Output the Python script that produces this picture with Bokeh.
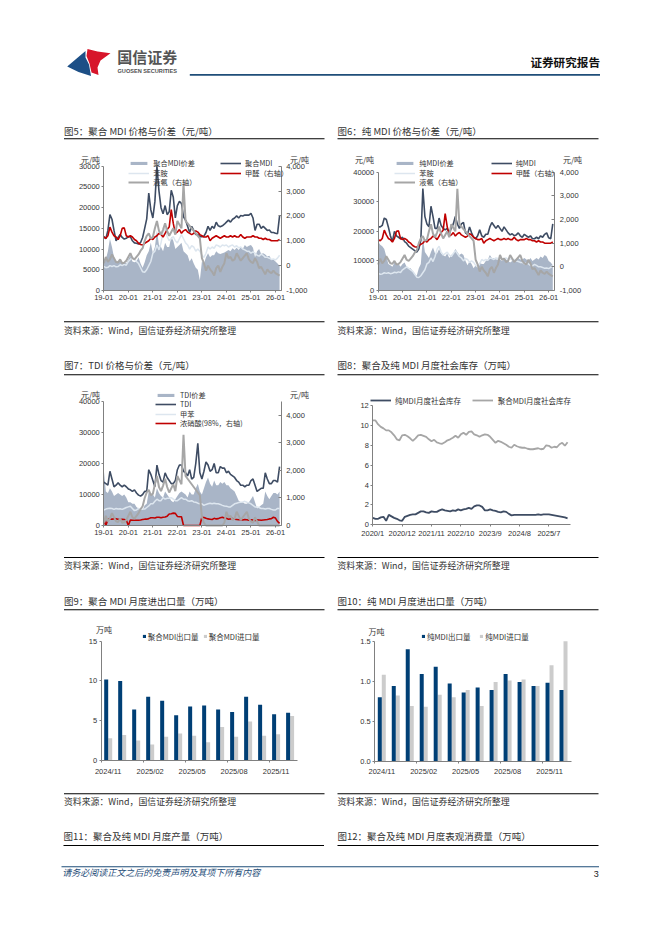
from bokeh.plotting import figure
from bokeh.layouts import column, row
from bokeh.models import (Range1d, LinearAxis, FixedTicker, NumeralTickFormatter, Label,
                          BoxAnnotation, Legend, ColumnDataSource)
from bokeh.core.properties import value
from bokeh.embed import file_html
from bokeh.resources import INLINE

# ---------- data ----------
year_labels = ["19-01", "20-01", "21-01", "22-01", "23-01", "24-01", "25-01", "26-01"]
inventory_labels = ["2020/1", "2020/12", "2021/11", "2022/10", "2023/9", "2024/8", "2025/7"]
trade_months = ["2024/11", "2025/02", "2025/05", "2025/08", "2025/11"]

polymeric_price = [13000,12500,14500,18300,17200,14500,12000,12800,13500,12800,12400,12600,
    13000,13000,12000,11500,11400,11200,11600,12800,15000,17300,23500,19500,
    17500,21500,30000,24000,20000,18500,20500,18300,19000,24200,22500,17500,
    20500,21500,21000,17800,17000,15500,14000,15500,14500,13500,13500,13000,
    13000,13100,14000,15500,14500,15500,15000,16500,15600,15400,15600,16000,
    16500,17000,16500,17200,17500,18000,17500,18100,18000,18200,18200,18200,
    18600,17500,14500,16000,16000,15000,15500,15000,14500,14600,14000,14000,13800,13700,18000]
polymeric_spread = [7000,7500,9500,12500,10500,8000,7000,7000,7500,6500,6800,6500,
    7500,8500,7000,6800,7000,8000,6500,5500,6800,8500,9500,11500,
    9000,10500,14500,11000,10500,9500,11500,10500,10500,13000,12000,10000,
    10500,11000,11500,9500,9000,8500,7000,7800,6500,5500,5000,2500,
    7000,6500,8000,9000,8000,8500,8500,9500,9000,8800,9000,9200,
    9500,9800,9500,10200,9800,10300,9800,10500,10000,11000,10500,10800,
    11000,10300,8000,9500,10000,8800,9000,8700,8200,8400,7500,7500,7000,6500,6000]
aniline = [5800,5500,5600,6000,5800,6000,5700,5800,6200,6000,6300,6100,
    7000,7500,8000,7500,7000,6500,5500,4500,4400,5000,6000,7000,
    9000,9500,11000,9800,11500,14000,15000,13000,12000,12500,13000,12000,
    11500,12500,13500,12500,11500,11000,10000,10800,10500,9500,10000,9500,
    8500,8000,9000,10500,10000,10500,10200,11000,10800,10500,11000,10800,
    11000,10500,10800,11000,10500,10800,10300,10500,10000,9800,9500,9500,
    9000,9300,9000,8500,8300,8800,8500,8000,8000,7800,7500,7600,7400,7800,8500]
formaldehyde = [1150,1100,1200,1550,1350,1200,1150,1050,1200,1500,1520,1200,
    1150,1200,1150,1050,1000,900,850,830,900,950,1000,1100,
    1050,1150,1200,1300,1250,1150,1300,1450,1550,2250,1700,1300,
    1350,1450,1300,1400,1450,1350,1300,1250,1300,1400,1350,1250,
    1200,1150,1150,1200,1000,1100,1150,1200,1150,1100,1150,1200,
    1150,1150,1200,1150,1200,1150,1150,1250,1150,1100,1150,1150,
    1150,1200,1150,1150,1100,1100,1050,1100,1050,1050,1000,1000,1000,1000,1050]
ammonia = [100,350,150,250,450,300,150,130,250,100,120,200,
    350,500,300,250,350,450,600,700,1000,1200,1300,1100,
    1150,1500,1800,1400,1250,1450,1700,1400,1200,1350,1500,1250,
    1800,1650,1500,3300,1800,1700,1600,1500,1400,1300,1200,1100,
    300,100,-200,0,-150,-250,-400,-100,0,-250,-50,100,
    500,300,350,200,250,500,350,200,300,400,500,250,
    150,100,300,150,-100,-50,-200,-350,-150,-250,-300,-200,-300,-350,-400]
ammonia_floor = [max(v, 0) for v in ammonia]

pure_price = [21500,21500,22000,24500,24000,21500,18500,16500,20000,18500,18000,17500,
    18000,16500,16000,15000,14500,14000,13500,13000,14000,17000,34500,25000,
    22500,21500,28500,25000,21000,21000,24500,22000,21000,20500,21000,19500,
    21000,22500,25000,22500,21000,22500,23000,19500,19000,21500,19500,18000,
    17500,18500,20500,18500,18000,19000,19000,21500,23000,22000,21000,22000,
    21000,20000,21500,20500,19500,18800,19200,18500,18800,19500,18500,18000,
    19000,18500,18000,18500,17500,17500,18000,17500,18500,18000,19000,19500,17800,17500,22500]
pure_spread = [16500,15500,15000,14000,11500,9000,8500,8000,9500,8500,9000,8000,
    9000,9500,8000,7500,7500,6500,5500,5000,7500,9000,18000,13000,
    12000,11000,13000,14500,12500,12500,14000,12500,12000,11500,12500,11000,
    12000,12500,14000,13000,12000,12500,12000,10000,8500,10000,9000,7500,
    8500,8000,9500,9000,9000,10000,10500,12000,11000,11000,10500,10500,
    10500,10000,11000,10500,10000,9500,10000,10000,10500,11000,10500,10500,
    11000,10500,10000,11000,10000,10500,11000,10500,11500,11000,12000,11500,10000,9500,8500]

tdi_price = [14000,13500,13000,17500,15000,12500,13000,13800,13000,12500,13000,12500,
    11800,11500,11000,11500,10500,9800,9500,10000,11000,11000,18000,16500,
    14500,12500,19500,16500,14500,14000,17000,15500,14500,13500,13500,14500,
    18000,19500,19500,17500,17000,16000,18000,15000,15500,20000,26500,17000,
    15000,17500,20500,19500,17500,18000,20000,17000,17000,19000,18500,18500,
    17000,17500,16500,16000,15500,14500,14000,13000,13000,12500,13000,13000,
    14500,15000,13000,11000,11500,12000,12000,17000,15000,13500,13500,14500,14500,14000,19000]
tdi_spread = [18000,11000,10500,12000,11000,9500,10000,10500,10000,9500,10000,9000,
    7500,7500,7000,7000,6000,5500,5000,5000,6500,7000,11000,10500,
    10000,9000,12000,10500,9500,9000,11000,10000,9000,8000,7500,8500,
    9500,10500,11000,10500,10000,9000,11000,10000,10000,12000,13500,11000,
    10000,12000,14000,15500,13500,12500,14500,13000,13000,14000,13500,14000,
    13000,13000,12000,11500,11000,9500,8000,7500,7500,7000,7000,7500,
    8500,9500,7500,5500,6000,6500,7000,11000,9500,8500,9500,10500,10500,10000,11000]
toluene = [5000,5300,5500,5600,5500,5200,5500,5300,5400,5200,5500,5800,
    6000,6200,5500,4800,5000,5500,5200,5300,5300,5800,6300,7000,
    7000,7800,8500,8000,8000,9000,8500,8800,8800,9000,8500,8000,
    8000,8500,9000,8500,8500,8000,7800,8000,7600,7500,7200,7000,
    7000,6500,6800,7000,7200,7000,7200,7000,7000,6800,6500,6300,
    6200,6000,6000,6500,7000,7200,7400,7500,7600,7800,7500,7300,
    7000,6500,6000,6000,5800,5500,5500,5300,5500,5500,5200,5000,5000,5500,5500]
nitric_acid = [250,0,220,240,230,250,240,230,220,230,220,200,
    0,200,190,190,190,190,200,220,230,230,250,280,
    280,270,300,300,280,300,310,340,420,430,450,440,
    330,320,320,0,0,0,0,0,0,0,0,0,
    300,290,260,240,230,220,260,240,250,280,300,270,
    260,230,240,250,230,220,210,220,200,220,210,190,
    210,200,180,210,200,190,200,210,220,240,250,300,270,150,80]

pure_inventory = [0.7,0.6,0.6,0.75,0.8,0.4,1.0,0.85,0.7,0.6,0.45,0.4,
    0.8,0.9,1.0,1.05,1.05,1.2,1.35,1.35,1.25,1.2,1.35,1.3,
    1.3,1.45,1.55,1.45,1.4,1.35,1.45,1.4,1.55,1.45,1.55,1.6,
    1.7,1.6,1.85,1.95,1.95,1.8,1.45,1.45,1.55,1.45,1.4,1.3,
    1.25,1.35,1.3,1.1,0.95,1.0,1.0,1.0,1.0,1.0,1.0,1.0,
    1.0,1.0,1.05,1.0,1.05,1.05,1.05,1.0,0.95,0.9,0.85,0.8,0.75,0.65]
polymeric_inventory = [10.5,10.5,10.1,9.85,9.7,9.5,9.5,9.3,9.0,8.6,8.5,9.0,
    9.05,8.9,8.7,8.45,8.7,9.0,9.05,8.95,8.85,8.6,8.4,8.55,
    8.3,8.2,8.15,8.3,8.5,8.6,8.75,8.95,8.75,9.1,9.25,9.05,
    9.35,9.4,9.1,9.0,8.85,9.0,9.1,9.05,8.85,8.55,8.25,8.45,
    8.35,8.2,8.05,7.85,7.75,8.05,7.9,7.8,7.75,7.75,7.65,7.6,
    7.6,7.65,7.7,7.6,7.65,8.0,7.95,7.75,7.85,7.8,8.1,8.25,7.95,8.3]

polymeric_export = [10.2,10.0,6.4,8.0,7.5,5.7,6.8,6.9,6.4,6.1,8.0,7.0,5.8,6.0]
polymeric_import = [2.8,3.2,2.5,2.0,3.0,3.4,3.1,2.3,4.2,3.0,4.9,3.1,3.3,5.6]
pure_export = [0.80,0.94,1.40,1.09,1.18,0.97,0.86,0.92,0.89,1.09,0.99,0.94,0.98,0.89]
pure_import = [1.08,0.82,0.69,0.68,0.83,0.80,0.89,0.69,0.99,1.01,1.02,0.94,1.20,1.50]

# ---------- full-width punctuation of the report's captions ----------
CO, LP, RP, CM = "\uff1a", "\uff08", "\uff09", "\uff0c"
UNIT_P = LP + "元/吨" + RP
UNIT_T = LP + "万吨" + RP
R_AXIS = LP + "右轴" + RP

# ---------- style ----------
CJK = "Noto Sans CJK SC"
LAT = "Liberation Sans"
AX = "#808080"
TXT = "#333333"
NAVY, RED, LIGHT, GRAY, AREA = "#3E4C63", "#C00000", "#DDE6EF", "#A6A6A6", "#A9B5C7"
BAR_D, BAR_L = "#003F75", "#CCCCCC"
CELL_W, CELL_H, HEAD_H, FOOT_H = 323, 235, 112, 103
ROW = 11


def style_axis(ax):
    ax.axis_line_color = AX
    ax.major_tick_line_color = AX
    ax.minor_tick_line_color = None
    ax.major_tick_in = 0
    ax.major_tick_out = 2
    ax.major_label_text_font = LAT
    ax.major_label_text_font_size = "7.5px"
    ax.major_label_text_color = TXT
    ax.major_label_standoff = 2


class Cell:
    """One figure whose frame fills the whole cell; the axes sit at fixed places inside it."""

    def __init__(self, c, r, fl, fr, ft, fb, xr, yr, yticks, xticks, xlabels, yfmt=None):
        self.cx, self.cy = 8 + CELL_W * c, 120 + CELL_H * r
        self.fl, self.fb = self.cx, self.cy + CELL_H
        self.pf = (fl, fr, ft, fb)
        self.xr, self.yr = xr, yr
        self.p = figure(width=CELL_W, height=CELL_H, output_backend="svg", toolbar_location=None,
                        x_range=Range1d(*self._xfull()), y_range=Range1d(*self._yfull(yr)),
                        min_border=0, outline_line_color=None)
        self.p.grid.visible = False
        ya, xa = self.p.yaxis[0], self.p.xaxis[0]
        style_axis(ya); style_axis(xa)
        ya.ticker = FixedTicker(ticks=yticks)
        ya.fixed_location = xr[0]
        ya.bounds = yr
        if yfmt:
            ya.major_label_overrides = yfmt
        xa.ticker = FixedTicker(ticks=xticks)
        xa.fixed_location = yr[0]
        xa.bounds = xr
        xa.major_label_overrides = dict(zip(xticks, xlabels))

    def _xfull(self):
        fl, fr, _, _ = self.pf
        k = (self.xr[1] - self.xr[0]) / (fr - fl)
        return self.xr[0] - (fl - self.cx) * k, self.xr[1] + (self.cx + CELL_W - fr) * k

    def _yfull(self, rng):
        _, _, ft, fb = self.pf
        k = (rng[1] - rng[0]) / (fb - ft)
        return rng[0] - (self.cy + CELL_H - fb) * k, rng[1] + (ft - self.cy) * k

    def text(self, px, py, s, size="8px", color=TXT, font=CJK, align="left", style="normal"):
        self.p.add_layout(Label(x=px - self.fl, y=self.fb - py + 1, x_units="screen", y_units="screen",
                                text=s, text_font=font, text_font_size=size, text_color=color,
                                text_align=align, text_baseline="middle", text_font_style=style))

    def rule(self, x0, x1, py, color="black", th=1.0):
        self.p.add_layout(BoxAnnotation(left=x0 - self.fl, right=x1 - self.fl,
                                        bottom=self.fb - py - th / 2, top=self.fb - py + th / 2,
                                        left_units="screen", right_units="screen",
                                        top_units="screen", bottom_units="screen",
                                        fill_color=color, fill_alpha=1, line_color=None))

    def frame_text(self, title, src, x0, x1, ty, ry, sry, sy):
        self.text(x0, ty, title, size="9.5px")
        self.rule(x0, x1, ry)
        self.rule(x0, x1, sry)
        self.text(x0, sy, src, size="8.9px")

    def legend(self, items, px, first_cy, pitch, gw=21, gh=4, standoff=4, size="7.5px"):
        # one Legend per row, so that the row pitch can be tighter than the font's line height
        for i, item in enumerate(items):
            cy = first_cy + pitch * i
            self.p.add_layout(Legend(items=[item], location=(px - self.fl, self.fb - cy - ROW / 2),
                                     padding=0, margin=0, spacing=0,
                                     glyph_width=gw, glyph_height=gh, label_standoff=standoff, label_height=1,
                                     label_text_font=CJK, label_text_font_size=size, label_text_color=TXT,
                                     background_fill_alpha=0, border_line_alpha=0))


def right_axis(cell, lo, hi, ticks):
    p = cell.p
    p.extra_y_ranges = {"r": Range1d(*cell._yfull((lo, hi)))}
    ra = LinearAxis(y_range_name="r", ticker=FixedTicker(ticks=ticks),
                    formatter=NumeralTickFormatter(format="0,0"))
    style_axis(ra)
    ra.major_tick_in = 3
    ra.major_tick_out = 0
    ra.major_label_standoff = 5
    ra.fixed_location = cell.xr[1]
    ra.bounds = (lo, hi)
    p.add_layout(ra, "right")


SRC = "资料来源" + CO + "Wind" + CM + "国信证券经济研究所整理"
months = list(range(87))
year_ticks = [0, 12, 24, 36, 48, 60, 72, 84]
L0, L1, R0, R1 = 63.5, 324, 337, 598
TIGHT = dict(pitch=9.5, size="7.2px")


def price_chart(cell, spread, price, feed, feed_color=LIGHT):
    p = cell.p
    a = p.varea(x=months, y1=0, y2=spread, fill_color=AREA)
    d = p.line(months, price, line_color=NAVY, line_width=1.6)
    w = p.line(months, feed, line_color=feed_color, line_width=1.5)
    return a, d, w


# --- 图5
c5 = Cell(0, 0, 103.3, 280.7, 165.7, 290, (0, 86.8), (0, 30000),
          [0, 5000, 10000, 15000, 20000, 25000, 30000], year_ticks, year_labels)
right_axis(c5, -1000, 4000, [-1000, 0, 1000, 2000, 3000, 4000])
a, d, w = price_chart(c5, polymeric_spread, polymeric_price, aniline)
r = c5.p.line(months, formaldehyde, y_range_name="r", line_color=RED, line_width=1.6)
g = c5.p.line(months, ammonia, y_range_name="r", line_color=GRAY, line_width=2)
c5.legend([("聚合MDI价差", [a]), ("苯胺", [w]), ("液氨" + R_AXIS, [g])], 50 + 235 / 3, 162.8, **TIGHT)
c5.legend([("聚合MDI", [d]), ("甲醛" + R_AXIS, [r])], 50 + 510 / 3, 162.8, **TIGHT)
c5.text(90, 159.5, "元/吨", align="center")
c5.text(299, 159.5, "元/吨", align="center")
c5.frame_text("图5" + CO + "聚合 MDI 价格与价差" + UNIT_P, SRC, L0, L1, 131, 138.3, 321.3, 331)

# --- 图6
c6 = Cell(1, 0, 377.7, 554.3, 171.7, 290, (0, 87), (0, 40000),
          [0, 10000, 20000, 30000, 40000], year_ticks, year_labels)
right_axis(c6, -1000, 4000, [-1000, 0, 1000, 2000, 3000, 4000])
a, d, w = price_chart(c6, pure_spread, pure_price, aniline)
r = c6.p.line(months, formaldehyde, y_range_name="r", line_color=RED, line_width=1.6)
g = c6.p.line(months, ammonia, y_range_name="r", line_color=GRAY, line_width=2)
c6.legend([("纯MDI价差", [a]), ("苯胺", [w]), ("液氨" + R_AXIS, [g])], 330 + 193 / 3, 162.8, **TIGHT)
c6.legend([("纯MDI", [d]), ("甲醛" + R_AXIS, [r])], 330 + 482 / 3, 162.8, **TIGHT)
c6.text(364, 160, "元/吨", align="center")
c6.text(572, 160, "元/吨", align="center")
c6.frame_text("图6" + CO + "纯 MDI 价格与价差" + UNIT_P, SRC, R0, R1, 131, 138.3, 321.3, 331)

# --- 图7
c7 = Cell(0, 1, 103.3, 280.7, 401, 525, (0, 86.8), (0, 40000),
          [0, 10000, 20000, 30000, 40000], year_ticks, year_labels)
right_axis(c7, 0, 4509, [0, 1000, 2000, 3000, 4000])
a, d, w = price_chart(c7, tdi_spread, tdi_price, toluene)
r = c7.p.line(months, nitric_acid, y_range_name="r", line_color=RED, line_width=1.6)
c7.p.line(months, ammonia_floor, y_range_name="r", line_color=GRAY, line_width=2)
c7.legend([("TDI价差", [a]), ("TDI", [d]), ("甲苯", [w]), ("浓硝酸(98%" + CM + "右轴)", [r])],
          50 + 315 / 3, 394, **TIGHT)
c7.text(90, 394.5, "元/吨", align="center")
c7.text(299, 395, "元/吨", align="center")
c7.frame_text("图7" + CO + "TDI 价格与价差" + UNIT_P, SRC, L0, L1, 365.7, 374.3, 557, 566)

# --- 图8
c8 = Cell(1, 1, 372.3, 570, 405, 524.3, (0, 74.1), (0, 12),
          [0, 2, 4, 6, 8, 10, 12], [0, 11, 22, 33, 44, 55, 66], inventory_labels)
d = c8.p.line(list(range(len(pure_inventory))), pure_inventory, line_color=NAVY, line_width=1.8)
g = c8.p.line(list(range(len(polymeric_inventory))), polymeric_inventory, line_color=GRAY, line_width=1.8)
c8.legend([("纯MDI月度社会库存", [d])], 330 + 120 / 3, 355 + 135 / 3, 8)
c8.legend([("聚合MDI月度社会库存", [g])], 330 + 425 / 3, 355 + 135 / 3, 8, standoff=5)
c8.frame_text("图8" + CO + "聚合及纯 MDI 月度社会库存" + UNIT_T, SRC, R0, R1, 365.7, 374.3, 557, 566)


# --- 图9 / 图10
def bars(cell, exp, imp, names, lx1, lx2, ly):
    p = cell.p
    xa = p.xaxis[0]
    xa.ticker = FixedTicker(ticks=[0, 3, 6, 9, 12], minor_ticks=[-0.5, 2.5, 5.5, 8.5, 11.5])
    xa.major_tick_out = 0
    xa.minor_tick_line_color = AX
    xa.minor_tick_out = 2
    xa.minor_tick_in = 0
    xa.major_label_standoff = 4
    idx = list(range(len(exp)))
    src = ColumnDataSource(dict(x1=[i - 0.143 for i in idx], x2=[i + 0.143 for i in idx], e=exp, m=imp))
    b2 = p.vbar(x="x2", top="m", width=0.286, source=src, fill_color=BAR_L, line_color=None)
    b1 = p.vbar(x="x1", top="e", width=0.286, source=src, fill_color=BAR_D, line_color=None)
    cell.legend([(names[0], [b1])], lx1, ly, 8, gw=4, standoff=2)
    cell.legend([(names[1], [b2])], lx2, ly, 8, gw=4, standoff=2)


c9 = Cell(0, 2, 100.7, 297.3, 640.7, 760, (-0.5, 13.55), (0, 15), [0, 5, 10, 15], [0, 3, 6, 9, 12], trade_months)
bars(c9, polymeric_export, polymeric_import, ["聚合MDI出口量", "聚合MDI进口量"], 50 + 275 / 3, 50 + 458 / 3, 590 + 138 / 3)
c9.text(103.5, 630, "万吨", align="center")
c9.frame_text("图9" + CO + "聚合 MDI 月度进出口量" + UNIT_T, SRC, L0, L1, 601, 609.3, 793.3, 801.7)

c10 = Cell(1, 2, 374.3, 570.7, 640.7, 760.7, (-0.5, 13.55), (0, 1.5), [0, 0.5, 1.0, 1.5], [0, 3, 6, 9, 12], trade_months,
           yfmt={0: "0.0", 0.5: "0.5", 1: "1.0", 1.5: "1.5"})
bars(c10, pure_export, pure_import, ["纯MDI出口量", "纯MDI进口量"], 330 + 273 / 3, 330 + 448 / 3, 590 + 138 / 3)
c10.text(376, 631.5, "万吨", align="center")
c10.frame_text("图10" + CO + "纯 MDI 月度进出口量" + UNIT_T, SRC, R0, R1, 601, 609.3, 793.3, 801.7)


# ---------- header / footer strips in page coordinates ----------
def strip(w, h, x0, y0):
    p = figure(width=w, height=h, output_backend="svg", toolbar_location=None,
               x_range=Range1d(x0, x0 + w), y_range=Range1d(y0 + h, y0),
               min_border=0, outline_line_color=None)
    p.axis.visible = False
    p.grid.visible = False
    return p


def put(p, x, y, s, size, color=TXT, font=CJK, align="left", style="normal"):
    p.text(x=[x], y=[y - 1], text=[s], text_font=value(font), text_font_size=value(size), text_color=color,
           text_align=align, text_baseline="middle", text_font_style=style)


head = strip(646, HEAD_H, 8, 8)
head.patch([66.7, 85, 85, 88.5, 90.5, 78], [66, 50.5, 57, 64, 75.5, 71.5], fill_color="#1D4F86", line_color=None)
head.patch([87, 97, 110, 100, 97, 98, 91, 89, 86],
           [48.5, 51, 52.7, 60, 67, 74.5, 72, 63, 55.5], fill_color="#D7152A", line_color=None)
put(head, 116.7, 57.3, "国信证券", "15px", color="#555555", style="bold")
put(head, 117, 71.2, "GUOSEN SECURITIES", "5.6px", color="#505050", font=LAT, style="bold")
put(head, 599.5, 62.7, "证券研究报告", "11.6px", color="#111111", align="right", style="bold")
head.quad(left=[189.3], right=[599.5], top=[73.6], bottom=[75.3], fill_color="#1F4E79", line_color=None)

foot = strip(646, FOOT_H, 8, 825)
put(foot, 63, 836.7, "图11" + CO + "聚合及纯 MDI 月度产量" + UNIT_T, "9.5px")
put(foot, 337, 836.7, "图12" + CO + "聚合及纯 MDI 月度表观消费量" + UNIT_T, "9.5px")
foot.quad(left=[63, 337], right=[323.5, 598], top=[844.5, 844.5], bottom=[845.5, 845.5], fill_color="black", line_color=None)
foot.quad(left=[61], right=[598.5], top=[865.8], bottom=[866.8], fill_color="#1F4E79", line_color=None)
put(foot, 61.7, 872.7, "请务必阅读正文之后的免责声明及其项下所有内容", "9px", color="#1F4E79", style="italic")
put(foot, 598.3, 874.5, "3", "9px", color="#222222", font=LAT, align="right")

layout = column(head,
                row(c5.p, c6.p, spacing=0),
                row(c7.p, c8.p, spacing=0),
                row(c9.p, c10.p, spacing=0),
                foot, spacing=0, margin=(8, 0, 0, 8))
open("out.html", "w").write(file_html(layout, INLINE))
